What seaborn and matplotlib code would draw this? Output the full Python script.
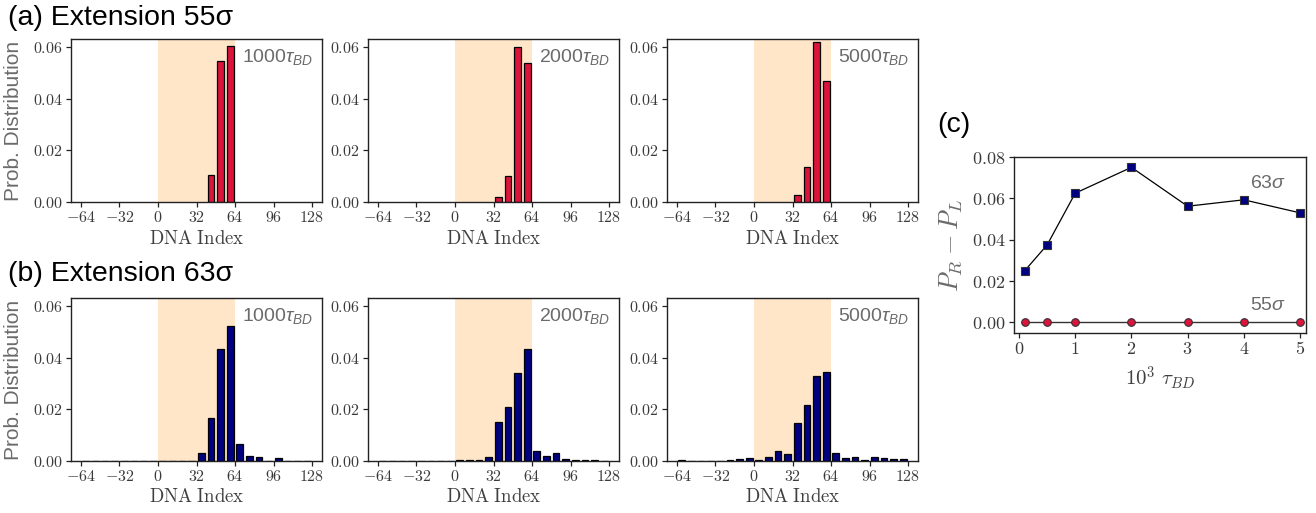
import numpy as np
import pandas as pd
import matplotlib
matplotlib.use("Agg")
import matplotlib.pyplot as plt
import seaborn as sns

# ---- data -------------------------------------------------------------
# bin centres along the DNA (bin width 8)
bin_centres = [-60, -52, -44, -36, -28, -20, -12, -4, 4, 12, 20, 28,
               36, 44, 52, 60, 68, 76, 84, 92, 100, 108, 116, 124]

# extension 55 sigma
ext55_1000 = [0, 0, 0, 0, 0, 0, 0, 0, 0, 0, 0, 0,
              0, 0.0103, 0.0548, 0.0603, 0, 0, 0, 0, 0, 0, 0, 0]
ext55_2000 = [0, 0, 0, 0, 0, 0, 0, 0, 0, 0, 0, 0,
              0.0021, 0.0100, 0.0600, 0.0538, 0, 0, 0, 0, 0, 0, 0, 0]
ext55_5000 = [0, 0, 0, 0, 0, 0, 0, 0, 0, 0, 0, 0,
              0.0028, 0.0134, 0.0621, 0.0470, 0, 0, 0, 0, 0, 0, 0, 0]

# extension 63 sigma
ext63_1000 = [0, 0, 0, 0, 0, 0, 0, 0, 0, 0, 0, 0,
              0.0030, 0.0166, 0.0435, 0.0522, 0.0065, 0.0021, 0.0017, 0,
              0.0010, 0, 0, 0]
ext63_2000 = [0.0001, 0.0001, 0.0001, 0.0001, 0.0001, 0.0001, 0.0001, 0.0001,
              0.0002, 0.0005, 0.0005, 0.0017,
              0.0152, 0.0210, 0.0342, 0.0435, 0.0038, 0.0021, 0.0030, 0.0006,
              0.0005, 0.0005, 0.0004, 0.0001]
ext63_5000 = [0.0003, 0.0001, 0.0001, 0.0001, 0.0001, 0.0003, 0.0009, 0.0013,
              0.0002, 0.0017, 0.0040, 0.0029,
              0.0146, 0.0216, 0.0330, 0.0345, 0.0032, 0.0012, 0.0016, 0.0005,
              0.0016, 0.0012, 0.0008, 0.0008]

times = ["1000", "2000", "5000"]

# P_R - P_L against time (units of 10^3 tau_BD)
time_k = [0.1, 0.5, 1, 2, 3, 4, 5]
diff_63 = [0.0250, 0.0375, 0.0625, 0.0750, 0.0562, 0.0593, 0.0530]
diff_55 = [0, 0, 0, 0, 0, 0, 0]

x_ticks = [-64, -32, 0, 32, 64, 96, 128]
y_ticks = [0.00, 0.02, 0.04, 0.06]
c_x_ticks = [0, 1, 2, 3, 4, 5]
c_y_ticks = [0.00, 0.02, 0.04, 0.06, 0.08]

# ---- style ------------------------------------------------------------
sns.set_style("ticks")
plt.rcParams["font.family"] = ["Liberation Sans", "DejaVu Sans"]
plt.rcParams["mathtext.fontset"] = "cm"
plt.rcParams["mathtext.rm"] = "Liberation Sans"
plt.rcParams["mathtext.it"] = "Liberation Sans:italic"
plt.rcParams["mathtext.bf"] = "Liberation Sans:bold"
plt.rcParams["axes.edgecolor"] = "#222222"
plt.rcParams["axes.linewidth"] = 1.0
plt.rcParams["xtick.color"] = "#222222"
plt.rcParams["ytick.color"] = "#222222"

RED = "#DC143C"
NAVY = "#000080"
PEACH = "#FFE6C8"
GREY = "#6b6b6b"
TICK_GREY = "#3a3a3a"

fig = plt.figure(figsize=(13.16, 5.13), dpi=100)

W = 1316.0
H = 513.0


def px_axes(left, top, width, height):
    return fig.add_axes([left / W, 1 - (top + height) / H, width / W, height / H])


lefts = [71, 368, 667]
panel_w = 251
panel_h = 163
tops = [39, 298]

rows = [
    ([ext55_1000, ext55_2000, ext55_5000], RED, False),
    ([ext63_1000, ext63_2000, ext63_5000], NAVY, True),
]


def fmt_math(v, nd=None):
    if nd is None:
        return f"${v}$"
    return f"${v:.{nd}f}$"


for r, (series, colour, keep_zero) in enumerate(rows):
    for c, vals in enumerate(series):
        ax = px_axes(lefts[c], tops[r], panel_w, panel_h)
        ax.axvspan(0, 64, color=PEACH, lw=0, zorder=0)
        df = pd.DataFrame({"bin": bin_centres, "p": vals})
        if not keep_zero:
            df = df[df["p"] > 0]
        sns.barplot(data=df, x="bin", y="p", native_scale=True, width=0.7,
                    color=colour, saturation=1, edgecolor="black",
                    linewidth=0.9, errorbar=None, ax=ax, zorder=2)
        ax.set_xlim(-72.3, 136.3)
        ax.set_ylim(0, 0.0632)
        ax.set_xticks(x_ticks)
        ax.set_xticklabels([fmt_math(t) for t in x_ticks])
        ax.set_yticks(y_ticks)
        ax.set_yticklabels([fmt_math(t, 2) for t in y_ticks])
        ax.tick_params(labelsize=11.5, labelcolor=TICK_GREY, length=3.5,
                       width=0.9, pad=2.5)
        ax.set_xlabel(r"$\mathrm{DNA\ Index}$", fontsize=13.5,
                      color="#404040", labelpad=3)
        if c == 0:
            ax.set_ylabel("Prob. Distribution", fontsize=15, color=GREY,
                          labelpad=7)
        else:
            ax.set_ylabel("")
        ax.text(0.965, 0.95, times[c] + r"$\tau_{BD}$", transform=ax.transAxes,
                ha="right", va="top", fontsize=14, color=GREY,
                math_fontfamily="custom")
        for s in ax.spines.values():
            s.set_zorder(3)

fig.text(8 / W, 1 - 25 / H, "(a) Extension 55σ", fontsize=20.5,
         color="black", va="baseline", ha="left")
fig.text(8 / W, 1 - 281 / H, "(b) Extension 63σ", fontsize=20.5,
         color="black", va="baseline", ha="left")
fig.text(937 / W, 1 - 132 / H, "(c)", fontsize=20.5,
         color="black", va="baseline", ha="left")

# ---- panel (c) --------------------------------------------------------
axc = px_axes(1014, 157, 292, 176)
sns.lineplot(x=time_k, y=diff_55, ax=axc, color="#333333", lw=1.0,
             marker="o", markersize=5.5, markerfacecolor=RED,
             markeredgecolor="#333333", markeredgewidth=0.8, zorder=3)
sns.lineplot(x=time_k, y=diff_63, ax=axc, color="black", lw=0.9,
             marker="s", markersize=5.5, markerfacecolor=NAVY,
             markeredgecolor="#333333", markeredgewidth=0.8, zorder=3)
axc.set_xlim(-0.09, 5.107)
axc.set_ylim(-0.0051, 0.08)
axc.set_xticks(c_x_ticks)
axc.set_xticklabels([fmt_math(t) for t in c_x_ticks])
axc.set_yticks(c_y_ticks)
axc.set_yticklabels([fmt_math(t, 2) for t in c_y_ticks])
axc.tick_params(labelsize=13, labelcolor=TICK_GREY, length=3.5, width=0.9,
                pad=2.5)
axc.set_xlabel(r"$10^3\ \tau_{BD}$", fontsize=15, color="#404040",
               labelpad=4)
axc.set_ylabel(r"$P_R - P_L$", fontsize=19, color=GREY, labelpad=6)
axc.text(4.11, 0.065, r"63$\sigma$", fontsize=14, color=GREY,
         ha="left", va="baseline", math_fontfamily="custom")
axc.text(4.11, 0.006, r"55$\sigma$", fontsize=14, color=GREY,
         ha="left", va="baseline", math_fontfamily="custom")

fig.savefig("out.png", dpi=100)
